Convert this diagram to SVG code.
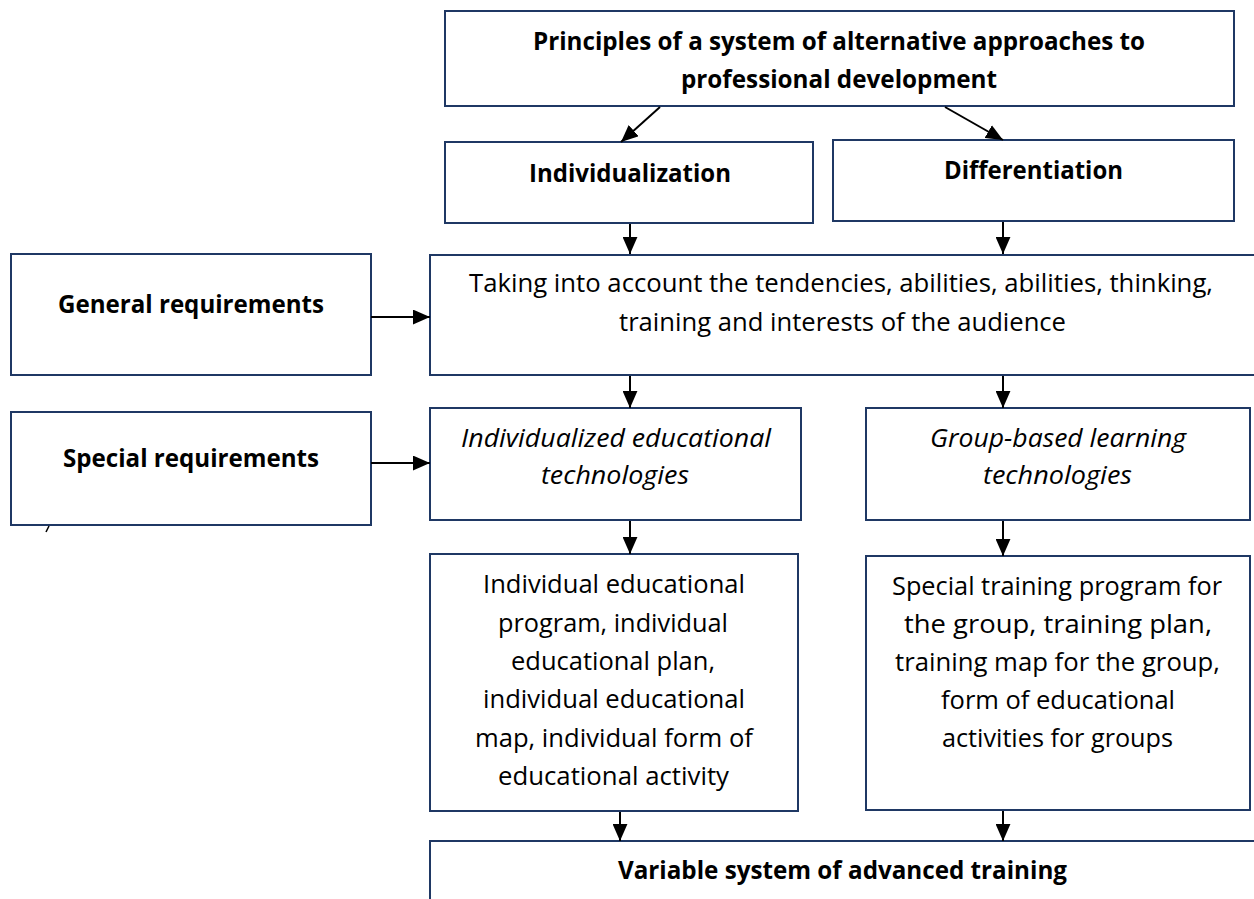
<svg xmlns="http://www.w3.org/2000/svg" width="1254" height="899" viewBox="0 0 1254 899">
  <style>
    .box { fill: #ffffff; stroke: #1f3864; stroke-width: 2; }
    .t { font-family: "Open Sans", "Noto Sans", "Liberation Sans", sans-serif; font-size: 25px; fill: #000000; }
    .b { font-weight: 700; }
    .i { font-style: italic; }
    .edge { stroke: #000000; stroke-width: 2; fill: none; marker-end: url(#arrow); }
  </style>
  <defs>
    <marker id="arrow" viewBox="0 0 16 14" refX="16" refY="7" markerWidth="17" markerHeight="15" markerUnits="userSpaceOnUse" orient="auto">
      <path d="M0,0 L16,7 L0,14 z" fill="#000000"/>
    </marker>
  </defs>
  <rect width="1254" height="899" fill="#ffffff"/>

  <g id="principles">
    <rect class="box" x="445" y="11" width="789" height="95"/>
    <text class="t b" x="533" y="50" textLength="612" lengthAdjust="spacingAndGlyphs">Principles of a system of alternative approaches to</text>
    <text class="t b" x="681" y="88" textLength="316" lengthAdjust="spacingAndGlyphs">professional development</text>
  </g>

  <g id="individualization">
    <rect class="box" x="445" y="142" width="368" height="81"/>
    <text class="t b" x="529" y="182" textLength="202" lengthAdjust="spacingAndGlyphs">Individualization</text>
  </g>

  <g id="differentiation">
    <rect class="box" x="833" y="140" width="401" height="81"/>
    <text class="t b" x="944" y="179" textLength="179" lengthAdjust="spacingAndGlyphs">Differentiation</text>
  </g>

  <g id="general-requirements">
    <rect class="box" x="11" y="254" width="360" height="121"/>
    <text class="t b" x="58" y="313" textLength="266" lengthAdjust="spacingAndGlyphs">General requirements</text>
  </g>

  <g id="special-requirements">
    <rect class="box" x="11" y="412" width="360" height="113"/>
    <text class="t b" x="63" y="467" textLength="256" lengthAdjust="spacingAndGlyphs">Special requirements</text>
    <path d="M49,526 L46,532" stroke="#000000" stroke-width="1.5" fill="none"/>
  </g>

  <g id="audience">
    <rect class="box" x="430" y="255" width="830" height="120"/>
    <text class="t" x="469" y="292" textLength="744" lengthAdjust="spacingAndGlyphs">Taking into account the tendencies, abilities, abilities, thinking,</text>
    <text class="t" x="619" y="331" textLength="447" lengthAdjust="spacingAndGlyphs">training and interests of the audience</text>
  </g>

  <g id="individualized-technologies">
    <rect class="box" x="430" y="408" width="371" height="112"/>
    <text class="t i" x="461" y="447" textLength="310" lengthAdjust="spacingAndGlyphs">Individualized educational</text>
    <text class="t i" x="541" y="484" textLength="148" lengthAdjust="spacingAndGlyphs">technologies</text>
  </g>

  <g id="group-technologies">
    <rect class="box" x="866" y="408" width="384" height="112"/>
    <text class="t i" x="930" y="447" textLength="256" lengthAdjust="spacingAndGlyphs">Group-based learning</text>
    <text class="t i" x="983" y="484" textLength="149" lengthAdjust="spacingAndGlyphs">technologies</text>
  </g>

  <g id="individual-program">
    <rect class="box" x="430" y="554" width="368" height="257"/>
    <text class="t" x="483" y="593" textLength="262" lengthAdjust="spacingAndGlyphs">Individual educational</text>
    <text class="t" x="498" y="632" textLength="230" lengthAdjust="spacingAndGlyphs">program, individual</text>
    <text class="t" x="511" y="670" textLength="204" lengthAdjust="spacingAndGlyphs">educational plan,</text>
    <text class="t" x="483" y="708" textLength="262" lengthAdjust="spacingAndGlyphs">individual educational</text>
    <text class="t" x="475" y="747" textLength="278" lengthAdjust="spacingAndGlyphs">map, individual form of</text>
    <text class="t" x="498" y="785" textLength="231" lengthAdjust="spacingAndGlyphs">educational activity</text>
  </g>

  <g id="group-program">
    <rect class="box" x="866" y="556" width="384" height="254"/>
    <text class="t" x="892" y="595" textLength="330" lengthAdjust="spacingAndGlyphs">Special training program for</text>
    <text class="t" x="904" y="633" textLength="308" lengthAdjust="spacingAndGlyphs">the group, training plan,</text>
    <text class="t" x="895" y="671" textLength="325" lengthAdjust="spacingAndGlyphs">training map for the group,</text>
    <text class="t" x="941" y="709" textLength="234" lengthAdjust="spacingAndGlyphs">form of educational</text>
    <text class="t" x="942" y="747" textLength="231" lengthAdjust="spacingAndGlyphs">activities for groups</text>
  </g>

  <g id="variable-system">
    <rect class="box" x="430" y="841" width="830" height="70"/>
    <text class="t b" x="618" y="879" textLength="449" lengthAdjust="spacingAndGlyphs">Variable system of advanced training</text>
  </g>

  <g id="connectors">
    <line class="edge" x1="660" y1="107" x2="621" y2="142"/>
    <line class="edge" x1="945" y1="107" x2="1003" y2="140"/>
    <line class="edge" x1="630" y1="224" x2="630" y2="254"/>
    <line class="edge" x1="1003" y1="222" x2="1003" y2="254"/>
    <line class="edge" x1="371" y1="317" x2="430" y2="317"/>
    <line class="edge" x1="371" y1="463" x2="430" y2="463"/>
    <line class="edge" x1="630" y1="376" x2="630" y2="408"/>
    <line class="edge" x1="1003" y1="376" x2="1003" y2="408"/>
    <line class="edge" x1="630" y1="521" x2="630" y2="554"/>
    <line class="edge" x1="1003" y1="521" x2="1003" y2="556"/>
    <line class="edge" x1="620" y1="812" x2="620" y2="841"/>
    <line class="edge" x1="1003" y1="811" x2="1003" y2="841"/>
  </g>
</svg>
